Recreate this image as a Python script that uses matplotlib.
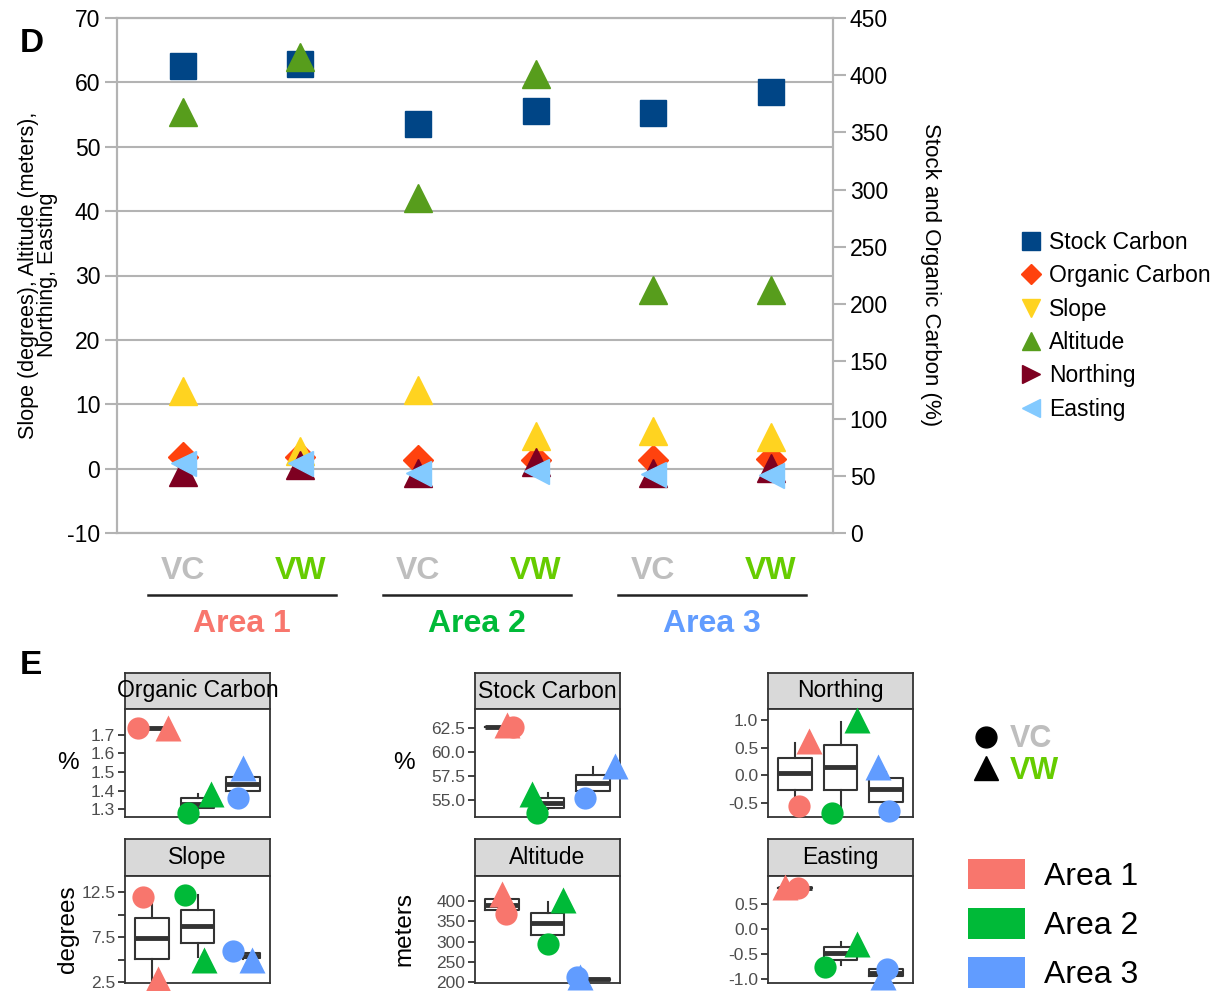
import matplotlib.pyplot as plt
from matplotlib.lines import Line2D
from matplotlib.patches import Patch
import numpy as np

plt.rcParams['font.family'] = ['Liberation Sans', 'DejaVu Sans']
plt.rcParams['axes.unicode_minus'] = False

# --- data -------------------------------------------------------------
groups = ['VC', 'VW', 'VC', 'VW', 'VC', 'VW']
areas = ['Area 1', 'Area 2', 'Area 3']

stock_carbon = [62.6, 62.8, 53.6, 55.6, 55.2, 58.5]
organic_carbon = [1.74, 1.74, 1.28, 1.38, 1.36, 1.52]
slope = [12.0, 2.8, 12.2, 5.0, 5.9, 4.9]
altitude = [368, 416, 293, 401, 212, 212]
northing = [-0.55, 0.62, -0.68, 1.0, -0.65, 0.15]
easting = [0.82, 0.85, -0.75, -0.30, -0.80, -0.95]

# box summaries per area: whisker low, q1, median, q3, whisker high
box_organic = [(1.74, 1.74, 1.74, 1.74, 1.74),
               (1.30, 1.305, 1.327, 1.36, 1.38),
               (1.39, 1.397, 1.435, 1.473, 1.48)]
box_stock = [(62.6, 62.6, 62.6, 62.6, 62.6),
             (54.1, 54.2, 54.7, 55.2, 55.7),
             (55.8, 55.9, 56.8, 57.6, 58.4)]
box_northing = [(-0.41, -0.27, 0.04, 0.31, 0.58),
                (-0.68, -0.27, 0.15, 0.55, 0.96),
                (-0.57, -0.48, -0.25, -0.05, 0.06)]
box_slope = [(2.4, 5.06, 7.4, 9.6, 11.2),
             (5.3, 6.83, 8.72, 10.5, 12.2),
             (5.1, 5.2, 5.4, 5.7, 5.8)]
box_altitude = [(378, 378, 390, 405, 405),
                (317, 317, 346, 371, 398),
                (205, 206, 207, 208, 209)]
box_easting = [(0.82, 0.82, 0.82, 0.82, 0.82),
               (-0.72, -0.62, -0.48, -0.36, -0.26),
               (-0.95, -0.94, -0.87, -0.80, -0.80)]

# --- styling ----------------------------------------------------------
c_stock, c_org, c_slope = '#004586', '#ff420e', '#ffd320'
c_alt, c_north, c_east = '#579d1c', '#7e0021', '#83caff'
area_colors = ['#f8766d', '#00ba38', '#619cff']
vc_color, vw_color = '#bebebe', '#66cc00'
grid_gray = '#b3b3b3'

W, H = 1224, 991
fig = plt.figure(figsize=(W / 100, H / 100), dpi=100)


def px_axes(x0, y0, x1, y1):
    return fig.add_axes([x0 / W, 1 - y1 / H, (x1 - x0) / W, (y1 - y0) / H])


# ===== panel D =====
ax = px_axes(117, 18, 833, 533)
ax2 = ax.twinx()
x = np.arange(len(groups))

ax.set_xlim(-0.56, 5.53)
ax.set_ylim(-10, 70)
ax.set_yticks(range(-10, 71, 10))
ax.set_xticks([])
ax.yaxis.grid(True, color=grid_gray, lw=1.5)
ax.set_axisbelow(True)
ax2.set_ylim(0, 450)
ax2.set_yticks(range(0, 451, 50))
for a in (ax, ax2):
    for s in a.spines.values():
        s.set_color(grid_gray)
        s.set_linewidth(1.5)
    a.tick_params(axis='y', length=9, width=1.5, color=grid_gray,
                  labelsize=16.5, pad=3)

ax.plot(x, stock_carbon, 's', ms=19, color=c_stock)
ax.plot(x, organic_carbon, 'D', ms=15, color=c_org)
ax.plot(x, slope, '^', ms=20, color=c_slope)
ax2.plot(x, altitude, '^', ms=20, color=c_alt)
ax2.plot(x, northing, '^', ms=20, color=c_north,
         transform=ax.transData)
ax2.plot(x, easting, '<', ms=18, color=c_east, transform=ax.transData)

tr = ax.get_xaxis_transform()
for i, g in enumerate(groups):
    ax.text(i, -0.074, g, transform=tr, ha='center', va='center',
            fontsize=23, fontweight='bold',
            color=vc_color if g == 'VC' else vw_color)
for k, (name, col) in enumerate(zip(areas, area_colors)):
    mid = 2 * k + 0.5
    ax.plot([mid - 0.8, mid + 0.8], [-0.12, -0.12], transform=tr,
            color='#222222', lw=1.8, clip_on=False)
    ax.text(mid, -0.177, name, transform=tr, ha='center', va='center',
            fontsize=23, fontweight='bold', color=col)

fig.text(38 / W, 1 - 275 / H, 'Slope (degrees), Altitude (meters),\nNorthing, Easting',
         rotation=90, ha='center', va='center', fontsize=15.5, linespacing=0.9)
fig.text(930 / W, 1 - 275 / H, 'Stock and Organic Carbon (%)',
         rotation=270, ha='center', va='center', fontsize=16)

handles_d = [
    Line2D([], [], ls='none', marker='s', ms=13, color=c_stock, label='Stock Carbon'),
    Line2D([], [], ls='none', marker='D', ms=10, color=c_org, label='Organic Carbon'),
    Line2D([], [], ls='none', marker='v', ms=13, color=c_slope, label='Slope'),
    Line2D([], [], ls='none', marker='^', ms=13, color=c_alt, label='Altitude'),
    Line2D([], [], ls='none', marker='>', ms=13, color=c_north, label='Northing'),
    Line2D([], [], ls='none', marker='<', ms=13, color=c_east, label='Easting'),
]
fig.legend(handles=handles_d, loc='upper left',
           bbox_to_anchor=(1012 / W, 1 - 222 / H), frameon=False,
           fontsize=16.5, handlelength=0.9, handletextpad=0.3,
           labelspacing=0.45, borderaxespad=0)

fig.text(20 / W, 1 - 43 / H, 'D', fontsize=24, fontweight='bold',
         ha='left', va='center')
fig.text(20 / W, 1 - 665 / H, 'E', fontsize=24, fontweight='bold',
         ha='left', va='center')

# ===== panel E =====
cols = [(125, 270), (475, 620), (768, 913)]
rows = [(673, 709, 817), (839, 876, 983)]

# horizontal spread of the VC / VW points around each box
jitter = {
    'Organic Carbon': ([-0.31, -0.2, -0.1], [0.35, 0.3, 0.0]),
    'Stock Carbon': ([0.24, -0.23, -0.18], [0.11, -0.34, 0.49]),
    'Northing': ([0.09, -0.19, 0.07], [0.31, 0.36, -0.18]),
    'Slope': ([-0.2, -0.27, -0.22], [0.13, 0.15, 0.2]),
    'Altitude': ([0.09, 0.0, -0.35], [0.0, 0.35, -0.29]),
    'Easting': ([0.07, -0.34, 0.02], [-0.22, 0.36, -0.07]),
}

panels = [
    ('Organic Carbon', organic_carbon, box_organic, (1.257, 1.84),
     [1.3, 1.4, 1.5, 1.6, 1.7], ['1.3', '1.4', '1.5', '1.6', '1.7'], '%', 0, 0),
    ('Stock Carbon', stock_carbon, box_stock, (53.23, 64.5),
     [55, 57.5, 60, 62.5], ['55.0', '57.5', '60.0', '62.5'], '%', 1, 0),
    ('Northing', northing, box_northing, (-0.75, 1.2),
     [-0.5, 0, 0.5, 1.0], ['-0.5', '0.0', '0.5', '1.0'], None, 2, 0),
    ('Slope', slope, box_slope, (2.39, 14.3),
     [2.5, 5, 7.5, 10, 12.5], ['2.5', '', '7.5', '', '12.5'], 'degrees', 0, 1),
    ('Altitude', altitude, box_altitude, (198, 461),
     [200, 250, 300, 350, 400], ['200', '250', '300', '350', '400'], 'meters', 1, 1),
    ('Easting', easting, box_easting, (-1.08, 1.06),
     [-1.0, -0.5, 0, 0.5], ['-1.0', '-0.5', '0.0', '0.5'], None, 2, 1),
]

dark = '#333333'
for name, values, boxes, ylim, ticks, ticklabels, ylab, ci, ri in panels:
    x0, x1 = cols[ci]
    s0, p0, p1 = rows[ri]

    strip = px_axes(x0, s0, x1, p0)
    strip.set_facecolor('#d9d9d9')
    strip.set_xticks([])
    strip.set_yticks([])
    for s in strip.spines.values():
        s.set_color(dark)
        s.set_linewidth(1.3)
    strip.text(0.5, 0.5, name, ha='center', va='center', fontsize=16.5,
               transform=strip.transAxes, clip_on=False)

    pax = px_axes(x0, p0, x1, p1)
    stats = [dict(whislo=b[0], q1=b[1], med=b[2], q3=b[3], whishi=b[4])
             for b in boxes]
    pax.bxp(stats, positions=[1, 2, 3], widths=0.75, showfliers=False,
            showcaps=False,
            boxprops=dict(color=dark, lw=1.5),
            whiskerprops=dict(color=dark, lw=1.5),
            medianprops=dict(color=dark, lw=3.5, solid_capstyle='butt'))
    vc_off, vw_off = jitter[name]
    for k in range(3):
        pax.plot(k + 1 + vc_off[k], values[2 * k], 'o', ms=16,
                 color=area_colors[k], mec='none', zorder=5, clip_on=False)
        pax.plot(k + 1 + vw_off[k], values[2 * k + 1], '^', ms=19,
                 color=area_colors[k], mec='none', zorder=5, clip_on=False)
    pax.set_xlim(0.4, 3.6)
    pax.set_ylim(*ylim)
    pax.set_xticks([])
    pax.set_yticks(ticks)
    pax.set_yticklabels(ticklabels)
    pax.tick_params(axis='y', length=5, width=1.3, color=dark,
                    labelcolor='#4d4d4d', labelsize=12.5, pad=2)
    for s in pax.spines.values():
        s.set_color(dark)
        s.set_linewidth(1.3)
    if ylab:
        lx = 68 if ci == 0 else 404
        rot = 0 if ylab == '%' else 90
        fig.text(lx / W, 1 - (p0 + p1) / 2 / H, ylab, rotation=rot,
                 ha='center', va='center', fontsize=17.5)

handles_g = [
    Line2D([], [], ls='none', marker='o', ms=15, color='black', label='VC'),
    Line2D([], [], ls='none', marker='^', ms=17, color='black', label='VW'),
]
leg = fig.legend(handles=handles_g, loc='upper left',
                 bbox_to_anchor=(958 / W, 1 - 712 / H), frameon=False,
                 prop=dict(size=22, weight='bold'), handlelength=1.0,
                 handletextpad=0.3, labelspacing=0.05, borderaxespad=0)
for t, c in zip(leg.get_texts(), [vc_color, vw_color]):
    t.set_color(c)

handles_a = [Patch(facecolor=c, edgecolor='none', label=a)
             for a, c in zip(areas, area_colors)]
fig.legend(handles=handles_a, loc='upper left',
           bbox_to_anchor=(955 / W, 1 - 846 / H), frameon=False,
           fontsize=23, handlelength=1.8, handleheight=1.1,
           handletextpad=0.6, labelspacing=0.5, borderaxespad=0)

fig.savefig('out.png', dpi=100)
